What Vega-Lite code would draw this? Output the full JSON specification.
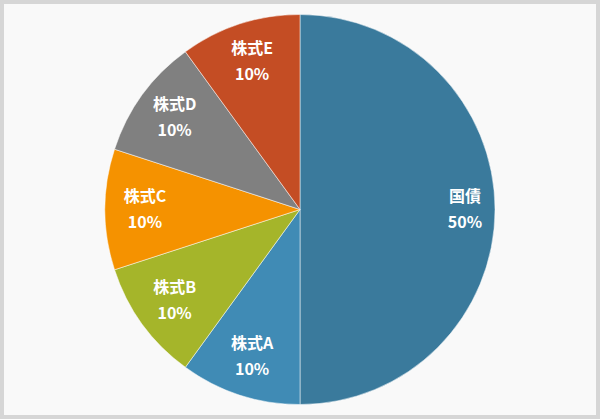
{
  "$schema": "https://vega.github.io/schema/vega-lite/v6.json",
  "width": 600,
  "height": 419,
  "autosize": {"type": "fit", "contains": "padding"},
  "padding": 0,
  "background": "#f9f9f9",
  "config": {"view": {"stroke": null}},
  "data": {"values": [
    {"name": "国債", "value": 50, "order": 1, "big": "国債\n50%", "small": ""},
    {"name": "株式A", "value": 10, "order": 2, "big": "", "small": "株式A\n10%"},
    {"name": "株式B", "value": 10, "order": 3, "big": "", "small": "株式B\n10%"},
    {"name": "株式C", "value": 10, "order": 4, "big": "", "small": "株式C\n10%"},
    {"name": "株式D", "value": 10, "order": 5, "big": "", "small": "株式D\n10%"},
    {"name": "株式E", "value": 10, "order": 6, "big": "", "small": "株式E\n10%"}
  ]},
  "layer": [
    {
      "mark": {"type": "rect", "fill": null, "stroke": "#d6d6d6", "strokeWidth": 4},
      "encoding": {}
    },
    {
      "mark": {"type": "arc", "radius": 195, "stroke": "#ffffff", "strokeWidth": 0.5},
      "encoding": {
        "theta": {"field": "value", "type": "quantitative", "stack": true},
        "order": {"field": "order", "type": "quantitative"},
        "color": {
          "field": "name", "type": "nominal", "legend": null,
          "scale": {
            "domain": ["国債", "株式A", "株式B", "株式C", "株式D", "株式E"],
            "range": ["#3a7a9c", "#408bb5", "#a5b52a", "#f59200", "#808080", "#c44d24"]
          }
        }
      }
    },
    {
      "mark": {"type": "text", "radius": 165, "baseline": "middle", "dy": -13, "lineBreak": "\n", "lineHeight": 26, "fontSize": 16, "fontWeight": "bold", "font": "Noto Sans CJK JP", "fill": "#ffffff"},
      "encoding": {
        "theta": {"field": "value", "type": "quantitative", "stack": true},
        "order": {"field": "order", "type": "quantitative"},
        "text": {"field": "big"}
      }
    },
    {
      "mark": {"type": "text", "radius": 155, "baseline": "middle", "dy": -13, "lineBreak": "\n", "lineHeight": 26, "fontSize": 16, "fontWeight": "bold", "font": "Noto Sans CJK JP", "fill": "#ffffff"},
      "encoding": {
        "theta": {"field": "value", "type": "quantitative", "stack": true},
        "order": {"field": "order", "type": "quantitative"},
        "text": {"field": "small"}
      }
    }
  ]
}
